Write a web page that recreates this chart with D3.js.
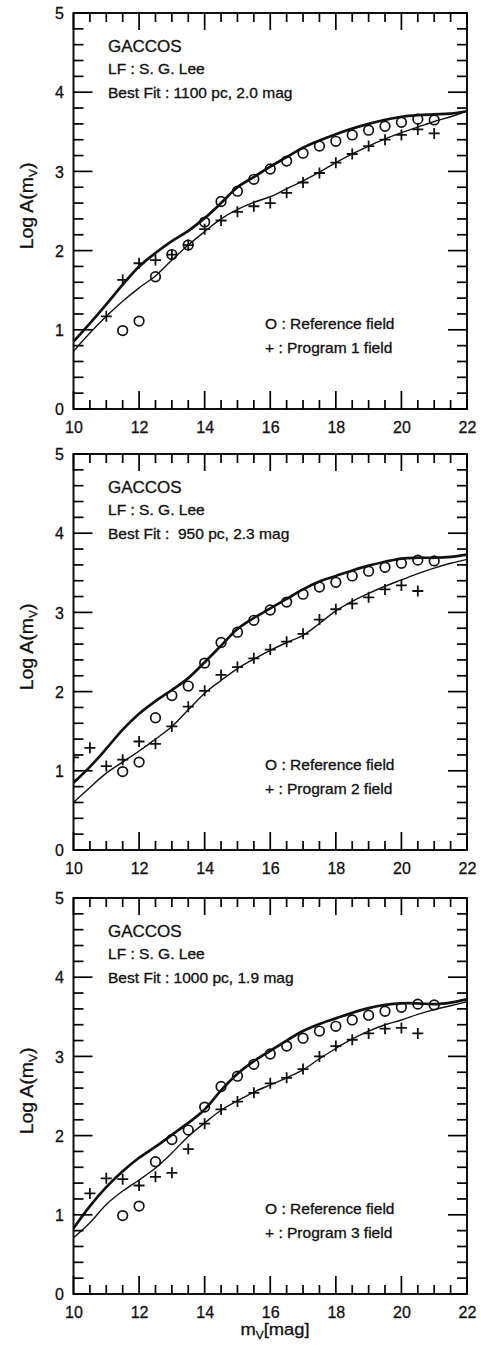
<!DOCTYPE html>
<html>
<head>
<meta charset="utf-8">
<script src="https://cdn.jsdelivr.net/npm/d3@7"></script>
<style>
  html, body { margin: 0; padding: 0; background: #fff; }
</style>
</head>
<body>
<svg id="chart" width="481" height="1350"></svg>
<script>
// ---------------- DATA ----------------
const xTickLabels = [10, 12, 14, 16, 18, 20, 22];
const yTickLabels = [0, 1, 2, 3, 4, 5];

// model curve sampling magnitudes
const curveMag = [10, 10.5, 11, 11.5, 12, 12.5, 13, 13.5, 14, 14.5, 15, 15.5, 16, 16.5, 17, 17.5, 18, 18.5, 19, 19.5, 20, 20.5, 21, 21.5, 22];

// reference field (circles), same in all panels
const refMag  = [11.5, 12, 12.5, 13, 13.5, 14, 14.5, 15, 15.5, 16, 16.5, 17, 17.5, 18, 18.5, 19, 19.5, 20, 20.5, 21];
const refVals = [0.99, 1.11, 1.67, 1.95, 2.07, 2.36, 2.62, 2.75, 2.90, 3.03, 3.13, 3.23, 3.32, 3.38, 3.46, 3.52, 3.57, 3.62, 3.66, 3.65];

// panel 1
const prog1Mag  = [11, 11.5, 12, 12.5, 13, 13.5, 14, 14.5, 15, 15.5, 16, 16.5, 17, 17.5, 18, 18.5, 19, 19.5, 20, 20.5, 21];
const prog1Vals = [1.17, 1.63, 1.84, 1.88, 1.95, 2.07, 2.27, 2.38, 2.49, 2.56, 2.60, 2.73, 2.86, 2.98, 3.11, 3.22, 3.32, 3.40, 3.46, 3.53, 3.48];
const thick1 = [0.85, 1.08, 1.32, 1.57, 1.80, 1.97, 2.12, 2.25, 2.41, 2.60, 2.80, 2.93, 3.06, 3.18, 3.30, 3.39, 3.47, 3.54, 3.60, 3.65, 3.69, 3.71, 3.72, 3.73, 3.76];
const thin1  = [0.73, 0.96, 1.17, 1.36, 1.53, 1.68, 1.88, 2.07, 2.24, 2.40, 2.52, 2.61, 2.68, 2.78, 2.88, 2.99, 3.11, 3.22, 3.32, 3.41, 3.49, 3.56, 3.63, 3.69, 3.76];

// panel 2
const prog2Mag  = [10, 10.5, 11, 11.5, 12, 12.5, 13, 13.5, 14, 14.5, 15, 15.5, 16, 16.5, 17, 17.5, 18, 18.5, 19, 19.5, 20, 20.5];
const prog2Vals = [1.17, 1.29, 1.06, 1.14, 1.37, 1.34, 1.56, 1.81, 2.01, 2.21, 2.31, 2.42, 2.53, 2.63, 2.73, 2.91, 3.04, 3.11, 3.19, 3.29, 3.34, 3.27];
const thick2 = [0.85, 1.05, 1.28, 1.52, 1.72, 1.88, 2.02, 2.17, 2.37, 2.58, 2.79, 2.93, 3.05, 3.17, 3.29, 3.39, 3.46, 3.53, 3.59, 3.64, 3.68, 3.69, 3.69, 3.70, 3.73];
const thin2  = [0.60, 0.79, 0.97, 1.11, 1.25, 1.40, 1.56, 1.77, 1.98, 2.14, 2.29, 2.41, 2.52, 2.62, 2.71, 2.86, 3.02, 3.14, 3.24, 3.33, 3.41, 3.49, 3.56, 3.62, 3.67];

// panel 3
const prog3Mag  = [10.5, 11, 11.5, 12, 12.5, 13, 13.5, 14, 14.5, 15, 15.5, 16, 16.5, 17, 17.5, 18, 18.5, 19, 19.5, 20, 20.5];
const prog3Vals = [1.27, 1.46, 1.45, 1.37, 1.48, 1.53, 1.83, 2.15, 2.33, 2.43, 2.54, 2.66, 2.73, 2.84, 3.00, 3.13, 3.21, 3.29, 3.35, 3.36, 3.29];
const thick3 = [0.83, 1.11, 1.35, 1.55, 1.72, 1.86, 2.01, 2.16, 2.33, 2.57, 2.78, 2.94, 3.07, 3.20, 3.32, 3.41, 3.48, 3.55, 3.61, 3.65, 3.67, 3.67, 3.66, 3.68, 3.72];
const thin3  = [0.71, 0.90, 1.13, 1.30, 1.44, 1.59, 1.78, 1.99, 2.16, 2.32, 2.44, 2.55, 2.64, 2.73, 2.83, 2.97, 3.10, 3.22, 3.32, 3.40, 3.46, 3.53, 3.59, 3.64, 3.69];

const titleText = "GACCOS";
const lfText = "LF : S. G. Lee";
const distLabels = ["1100 pc, 2.0 mag", "\u00a0950 pc, 2.3 mag", "1000 pc, 1.9 mag"];
const refLabel = "O : Reference field";
const progLabels = ["+ : Program 1 field", "+ : Program 2 field", "+ : Program 3 field"];

// ---------------- DRAW ----------------
const FONT = "'Liberation Sans', Arial, Helvetica, sans-serif";
const INK = "#111";
const svg = d3.select("#chart");
const plotLeft = 73.5, plotRight = 467;
const panelTops = [13, 454, 898];
const panelH = 396;

const panels = [
  { prog: prog1Mag.map((m, i) => [m, prog1Vals[i]]), thick: thick1, thin: thin1 },
  { prog: prog2Mag.map((m, i) => [m, prog2Vals[i]]), thick: thick2, thin: thin2 },
  { prog: prog3Mag.map((m, i) => [m, prog3Vals[i]]), thick: thick3, thin: thin3 }
];
const refPts = refMag.map((m, i) => [m, refVals[i]]);

function styleAxis(s) {
  s.select(".domain").remove();
  s.selectAll(".tick line").remove();
  s.selectAll(".tick text").attr("fill", INK).attr("font-size", 16)
    .attr("font-family", FONT).attr("stroke", INK).attr("stroke-width", 0.3);
}

function addText(g, x0, y0, size, sx, str) {
  return g.append("text")
    .attr("transform", `translate(${x0},${y0}) scale(${sx},1)`)
    .attr("font-family", FONT).attr("font-size", size)
    .attr("fill", INK).attr("stroke", INK).attr("stroke-width", 0.3)
    .text(str);
}

const tickSegs = [];

panels.forEach((p, k) => {
  const pTop = panelTops[k], pBottom = pTop + panelH;
  const x = d3.scaleLinear().domain([10, 22]).range([plotLeft, plotRight]);
  const y = d3.scaleLinear().domain([0, 5]).range([pBottom, pTop]);
  const g = svg.append("g");

  const clipId = "clip" + k;
  svg.append("defs").append("clipPath").attr("id", clipId).append("rect")
    .attr("x", plotLeft).attr("y", pTop).attr("width", plotRight - plotLeft).attr("height", panelH);

  const xMinor = d3.range(10.5, 22, 0.5).filter(v => v % 2 !== 0);
  const yMinor = d3.range(0.2, 5, 0.2).filter(v => Math.abs(v - Math.round(v)) > 0.01);

  // tick labels via d3 axes
  g.append("g").attr("transform", `translate(0,${pBottom})`)
    .call(d3.axisBottom(x).tickValues(xTickLabels).tickSize(0).tickPadding(0).tickFormat(d3.format("d")))
    .call(styleAxis)
    .call(s => s.selectAll(".tick text").attr("y", 12.5));
  g.append("g").attr("transform", `translate(${plotLeft},0)`)
    .call(d3.axisLeft(y).tickValues(yTickLabels).tickSize(0).tickPadding(0).tickFormat(d3.format("d")))
    .call(styleAxis)
    .call(s => s.selectAll(".tick text").attr("x", -9.5).attr("dy", "0.36em"));

  // inward tick mark segments from the scales
  xMinor.forEach(v => { const px = x(v);
    tickSegs.push([px, pBottom, px, pBottom - 9], [px, pTop, px, pTop + 9]); });
  xTickLabels.forEach(v => { const px = x(v);
    tickSegs.push([px, pBottom, px, pBottom - 18], [px, pTop, px, pTop + 17]); });
  yMinor.forEach(v => { const py = y(v);
    tickSegs.push([plotLeft, py, plotLeft + 10, py], [plotRight, py, plotRight - 10, py]); });
  yTickLabels.forEach(v => { const py = y(v);
    tickSegs.push([plotLeft, py, plotLeft + 19, py], [plotRight, py, plotRight - 19, py]); });

  // frame
  g.append("rect").attr("x", plotLeft).attr("y", pTop).attr("width", plotRight - plotLeft).attr("height", panelH)
    .style("fill", "none").style("stroke", INK).style("stroke-width", "2px");

  // curves
  const line = d3.line().x(d => x(d[0])).y(d => y(d[1])).curve(d3.curveCatmullRom.alpha(0.5));
  const plot = g.append("g").attr("clip-path", `url(#${clipId})`);
  plot.append("path").datum(curveMag.map((m, i) => [m, p.thick[i]]))
    .attr("d", line).attr("fill", "none").attr("stroke", INK).attr("stroke-width", 2.7);
  plot.append("path").datum(curveMag.map((m, i) => [m, p.thin[i]]))
    .attr("d", line).attr("fill", "none").attr("stroke", INK).attr("stroke-width", 1.4);

  // reference circles
  plot.selectAll("circle.ref").data(refPts).join("circle")
    .attr("class", "ref").attr("cx", d => x(d[0])).attr("cy", d => y(d[1])).attr("r", 4.8)
    .attr("fill", "none").attr("stroke", INK).attr("stroke-width", 1.7);

  // program pluses
  const pl = 5.5;
  plot.selectAll("path.prog").data(p.prog).join("path")
    .attr("class", "prog")
    .attr("d", d => `M${x(d[0]) - pl},${y(d[1])}H${x(d[0]) + pl}M${x(d[0])},${y(d[1]) - pl}V${y(d[1]) + pl}`)
    .attr("stroke", INK).attr("stroke-width", 1.8).attr("fill", "none");

  // annotations
  addText(g, 108, pTop + 38.5, 17, 1.0, titleText);
  addText(g, 108, pTop + 61, 14, 1.11, lfText);
  addText(g, 108, pTop + 85, 14, 1.11, "Best Fit : " + distLabels[k]);
  addText(g, 265, pTop + 316, 14, 1.11, refLabel);
  addText(g, 265, pTop + 339.5, 14, 1.11, progLabels[k]);

  // y-axis label
  const yl = g.append("text")
    .attr("transform", `translate(33,${(pTop + pBottom) / 2 - 5}) rotate(-90) scale(1.08,1)`)
    .attr("text-anchor", "middle").attr("font-family", FONT).attr("font-size", 18)
    .attr("fill", INK).attr("stroke", INK).attr("stroke-width", 0.3);
  yl.append("tspan").text("Log A(m");
  yl.append("tspan").attr("font-size", 11).attr("dy", 4).text("V");
  yl.append("tspan").attr("dy", -4).text(")");
});

// tick marks drawn last, on top
svg.append("g").attr("class", "tickmarks")
  .selectAll("line").data(tickSegs).join("line")
  .attr("x1", d => d[0]).attr("y1", d => d[1]).attr("x2", d => d[2]).attr("y2", d => d[3])
  .style("stroke", "#000").style("stroke-width", "1.7px").style("stroke-linecap", "butt");

// x-axis title
const xt = svg.append("text")
  .attr("transform", "translate(275,1335) scale(1.08,1)")
  .attr("text-anchor", "middle").attr("font-family", FONT).attr("font-size", 17)
  .attr("fill", INK).attr("stroke", INK).attr("stroke-width", 0.3);
xt.append("tspan").text("m");
xt.append("tspan").attr("font-size", 11).attr("dy", 4).text("V");
xt.append("tspan").attr("dy", -4).text("[mag]");
</script>
</body>
</html>
